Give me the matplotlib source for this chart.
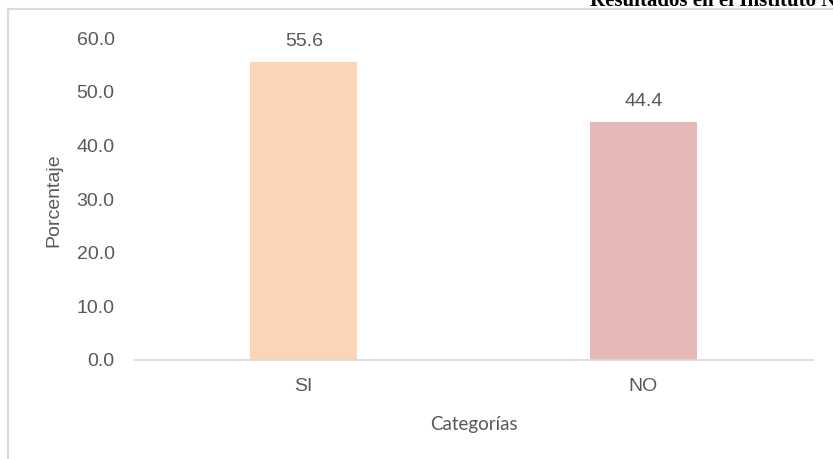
import matplotlib.pyplot as plt
from matplotlib.lines import Line2D

categorias = ["SI", "NO"]
porcentajes = [55.6, 44.4]
colores = ["#FBD5B5", "#E6B8B7"]
yticks = [0, 10, 20, 30, 40, 50, 60]

gris = "#595959"

fig = plt.figure(figsize=(8.33, 4.59), dpi=100)
ax = fig.add_axes([0.1609, 0.2157, 0.8151, 0.7007])

x = range(len(categorias))
bars = ax.bar(x, porcentajes, width=0.315, color=colores)

# etiquetas de valor encima de cada barra
for b, v in zip(bars, porcentajes):
    ax.annotate("%.1f" % v, (b.get_x() + b.get_width() / 2, v),
                xytext=(0, 8.5), textcoords="offset points",
                ha="center", va="bottom", fontsize=14, color=gris,
                family="Liberation Sans")

ax.set_xlim(-0.5, 1.5)
ax.set_ylim(0, 60)
ax.set_yticks(yticks)
ax.set_yticklabels(["%.1f" % t for t in yticks], family="Liberation Sans")
ax.set_xticks(list(x))
ax.set_xticklabels(categorias, family="Liberation Sans")
ax.tick_params(length=0, labelsize=14, colors=gris)
ax.tick_params(axis="x", pad=13)
ax.tick_params(axis="y", pad=14)

for s in ["top", "right", "left"]:
    ax.spines[s].set_visible(False)
ax.spines["bottom"].set_color("#d9d9d9")
ax.spines["bottom"].set_linewidth(1.2)

ax.set_ylabel("Porcentaje", fontsize=14, color=gris, family="Liberation Sans")
ax.yaxis.set_label_coords(-0.106, 0.4975)
ax.set_xlabel("Categorías", fontsize=13.5, color=gris, family="Lato", labelpad=15)

# marco del grafico (cortado en la imagen original)
fig.add_artist(Line2D([8 / 833, 8 / 833], [0, 1 - 9 / 459], color="#d9d9d9",
                      lw=1.5, transform=fig.transFigure))
fig.add_artist(Line2D([8 / 833, 1], [1 - 9 / 459, 1 - 9 / 459], color="#d9d9d9",
                      lw=1.5, transform=fig.transFigure))

fig.text(590 / 833, 1 - 6 / 459, "Resultados en el Instituto Nacional",
         fontsize=15, fontweight="bold", family="Liberation Serif",
         va="baseline", ha="left", color="black")

fig.savefig("out.png", dpi=100)
